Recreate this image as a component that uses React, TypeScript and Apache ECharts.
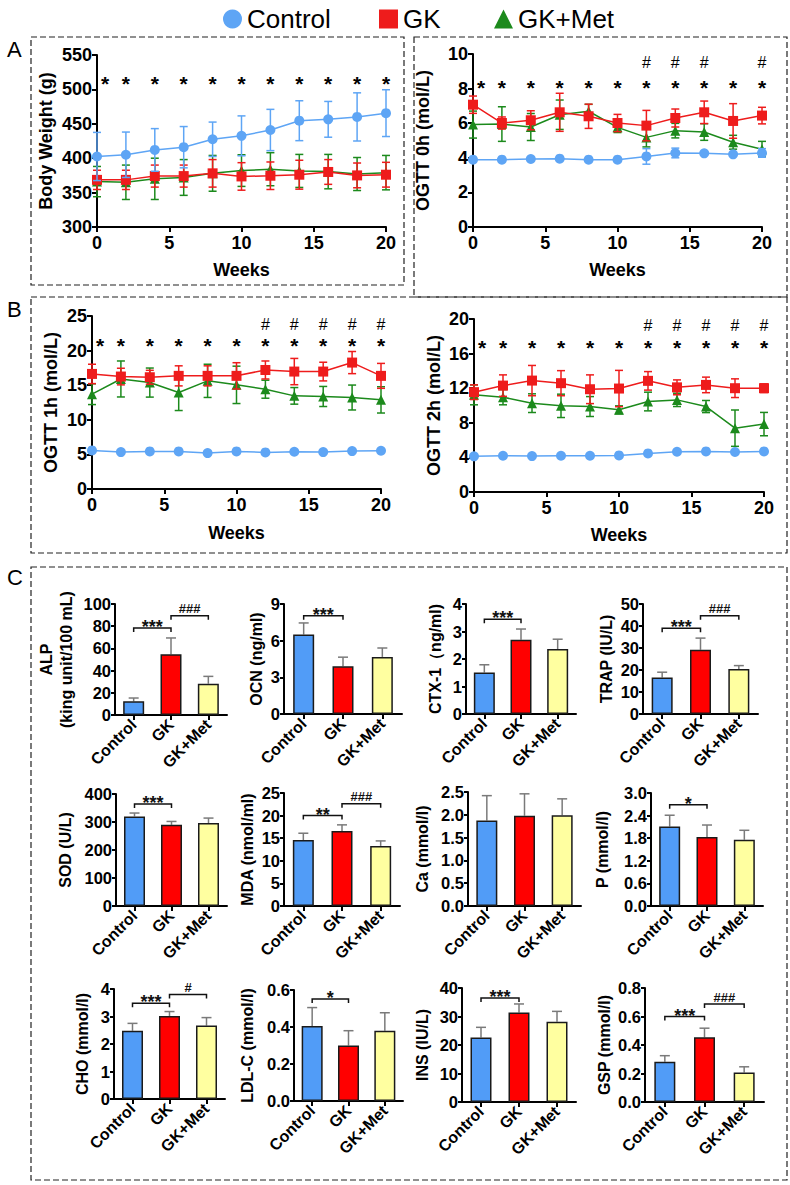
import React, { useEffect, useRef } from "react";
import * as echarts from "echarts";

const FONT = 'Arial, "Liberation Sans", sans-serif';

// ---------- line-chart data ----------
const weeks = [0, 2, 4, 6, 8, 10, 12, 14, 16, 18, 20];

const bwControl = [402.5, 405, 412, 416, 427.5, 432.5, 441, 454.5, 456.5, 460, 465.5];
const bwControlSd = [35, 33, 31, 30, 25, 29, 30, 29, 26, 35, 34];
const bwGK = [368.5, 368.5, 374, 374, 378, 373.5, 374.5, 376, 380, 375, 376];
const bwGKSd = [14, 14, 16, 16, 20, 20, 20, 21, 18, 18, 18];
const bwMet = [366, 365, 370, 372, 378, 382, 384, 381.5, 380.5, 377, 379];
const bwMetSd = [22, 25, 30, 26, 26, 23, 24, 24, 25, 24, 25];

const g0Control = [3.89, 3.89, 3.93, 3.95, 3.89, 3.89, 4.08, 4.28, 4.26, 4.2, 4.28];
const g0ControlSd = [0.05, 0.05, 0.05, 0.05, 0.05, 0.05, 0.45, 0.28, 0.08, 0.06, 0.25];
const g0GK = [7.07, 6.01, 6.17, 6.63, 6.4, 6.01, 5.86, 6.3, 6.63, 6.13, 6.44];
const g0GKSd = [0.5, 0.35, 0.55, 1.1, 0.7, 0.5, 0.88, 0.52, 0.65, 1.0, 0.48];
const g0Met = [5.92, 5.95, 5.78, 6.49, 6.69, 5.76, 5.18, 5.57, 5.49, 4.9, 4.5];
const g0MetSd = [0.78, 1.0, 0.78, 0.85, 0.4, 0.3, 0.55, 0.42, 0.48, 0.4, 0.45];

const g1Control = [5.58, 5.34, 5.43, 5.43, 5.19, 5.43, 5.29, 5.38, 5.34, 5.48, 5.53];
const g1ControlSd = [0.1, 0.1, 0.1, 0.1, 0.1, 0.1, 0.1, 0.1, 0.1, 0.1, 0.1];
const g1GK = [16.63, 16.25, 16.15, 16.35, 16.35, 16.35, 17.2, 16.97, 16.97, 18.27, 16.35];
const g1GKSd = [1.4, 1.2, 1.0, 1.45, 1.45, 1.9, 1.3, 1.9, 1.35, 1.6, 1.8];
const g1Met = [13.7, 15.9, 15.38, 13.94, 15.63, 15.05, 14.42, 13.46, 13.37, 13.22, 12.88];
const g1MetSd = [1.5, 2.6, 2.1, 2.6, 2.4, 2.7, 1.3, 1.2, 1.45, 1.8, 1.9];

const g2Control = [4.12, 4.19, 4.15, 4.19, 4.19, 4.23, 4.46, 4.65, 4.69, 4.62, 4.69];
const g2ControlSd = [0.1, 0.1, 0.1, 0.1, 0.1, 0.1, 0.1, 0.1, 0.1, 0.1, 0.1];
const g2GK = [11.54, 12.3, 12.88, 12.58, 11.88, 11.96, 12.85, 12.1, 12.38, 12.0, 12.0];
const g2GKSd = [0.85, 1.24, 1.75, 1.45, 1.66, 2.1, 1.07, 0.86, 0.9, 1.08, 0.5];
const g2Met = [11.23, 10.96, 10.27, 9.96, 9.88, 9.5, 10.46, 10.65, 9.88, 7.38, 7.85];
const g2MetSd = [1.15, 0.88, 1.08, 1.35, 1.15, 0.46, 1.08, 0.77, 0.7, 2.1, 1.35];

const hashWeeks0h = [12, 14, 16, 20];
const hashWeeks1h = [12, 14, 16, 18, 20];
const hashWeeks2h = [12, 14, 16, 18, 20];

// ---------- bar-chart data ----------
const groups = ["Control", "GK", "GK+Met"];
const alp = [12.3, 54.7, 28.2];
const alpSd = [3, 14.7, 6.6];
const ocn = [6.5, 3.9, 4.67];
const ocnSd = [0.95, 0.75, 0.73];
const ctx = [1.51, 2.7, 2.36];
const ctxSd = [0.28, 0.39, 0.36];
const trap = [16.6, 29.2, 20.4];
const trapSd = [2.4, 5.3, 1.6];
const sod = [320, 290, 296];
const sodSd = [12, 12, 18];
const mda = [14.6, 16.6, 13.3];
const mdaSd = [1.5, 1.35, 1.1];
const ca = [1.875, 1.98, 1.99];
const caSd = [0.545, 0.48, 0.36];
const phos = [2.11, 1.83, 1.76];
const phosSd = [0.3, 0.32, 0.25];
const cho = [2.48, 3.02, 2.67];
const choSd = [0.27, 0.16, 0.29];
const ldl = [0.405, 0.3, 0.38];
const ldlSd = [0.1, 0.08, 0.097];
const ins = [22.6, 31.4, 28.2];
const insSd = [3.6, 3.0, 3.6];
const gsp = [0.282, 0.454, 0.207];
const gspSd = [0.043, 0.064, 0.04];

const C_BLUE = "#5EA5F5";
const C_RED = "#EE1C1C";
const C_GREEN = "#1C8A1C";
const BAR_COLORS = ["#519CF7", "#FF0000", "#FFFFA0"];

const errLineRender = (color: string) => (params: any, api: any) => {
  const x = api.value(0);
  const lo = api.coord([x, api.value(1)]);
  const hi = api.coord([x, api.value(2)]);
  const w = 4;
  return {
    type: "group",
    children: [
      { type: "line", shape: { x1: lo[0], y1: lo[1], x2: hi[0], y2: hi[1] }, style: { stroke: color, lineWidth: 1.5 } },
      { type: "line", shape: { x1: hi[0] - w, y1: hi[1], x2: hi[0] + w, y2: hi[1] }, style: { stroke: color, lineWidth: 1.5 } },
      { type: "line", shape: { x1: lo[0] - w, y1: lo[1], x2: lo[0] + w, y2: lo[1] }, style: { stroke: color, lineWidth: 1.5 } },
    ],
  };
};

const textStyleBase = { fontFamily: FONT, fontWeight: "bold", color: "#000" };

function buildOption() {
  const grid: any[] = [];
  const xAxis: any[] = [];
  const yAxis: any[] = [];
  const series: any[] = [];

  const linePanels = [
    { box: { left: 97, top: 55, width: 289, height: 172 }, y: [300, 550, 50], name: "Body Weight (g)", yGap: 42, xGap: 34,
      ctrl: bwControl, ctrlSd: bwControlSd, gk: bwGK, gkSd: bwGKSd, met: bwMet, metSd: bwMetSd, star: 516, hash: 0, hashWeeks: [] as number[] },
    { box: { left: 473, top: 54, width: 289, height: 173 }, y: [0, 10, 2], name: "OGTT 0h (mol/L)", yGap: 41, xGap: 34,
      ctrl: g0Control, ctrlSd: g0ControlSd, gk: g0GK, gkSd: g0GKSd, met: g0Met, metSd: g0MetSd, star: 8.38, hash: 9.48, hashWeeks: hashWeeks0h },
    { box: { left: 92, top: 316, width: 289, height: 173 }, y: [0, 25, 5], name: "OGTT 1h (mol/L)", yGap: 32, xGap: 35,
      ctrl: g1Control, ctrlSd: g1ControlSd, gk: g1GK, gkSd: g1GKSd, met: g1Met, metSd: g1MetSd, star: 21.4, hash: 23.8, hashWeeks: hashWeeks1h },
    { box: { left: 474, top: 319, width: 290, height: 173 }, y: [0, 20, 4], name: "OGTT 2h (mol/L)", yGap: 31, xGap: 34,
      ctrl: g2Control, ctrlSd: g2ControlSd, gk: g2GK, gkSd: g2GKSd, met: g2Met, metSd: g2MetSd, star: 17.3, hash: 19.2, hashWeeks: hashWeeks2h },
  ];

  linePanels.forEach((p) => {
    const gi = grid.length;
    grid.push({ ...p.box, containLabel: false });
    xAxis.push({
      gridIndex: gi, type: "value", min: 0, max: 20, interval: 5,
      name: "Weeks", nameLocation: "middle", nameGap: p.xGap,
      nameTextStyle: { ...textStyleBase, fontSize: 18 },
      axisLine: { show: true, onZero: false, lineStyle: { color: "#000", width: 2 } },
      axisTick: { show: true, length: 5, lineStyle: { color: "#000", width: 2 } },
      axisLabel: { ...textStyleBase, fontSize: 18, margin: 7 },
      splitLine: { show: false },
    });
    yAxis.push({
      gridIndex: gi, type: "value", min: p.y[0], max: p.y[1], interval: p.y[2],
      name: p.name, nameLocation: "middle", nameRotate: 90, nameGap: p.yGap,
      nameTextStyle: { ...textStyleBase, fontSize: 18 },
      axisLine: { show: true, onZero: false, lineStyle: { color: "#000", width: 2 } },
      axisTick: { show: true, length: 5, lineStyle: { color: "#000", width: 2 } },
      axisLabel: { ...textStyleBase, fontSize: 18, margin: 5 },
      splitLine: { show: false },
    });
    const groupsDef = [
      { name: "GK+Met", v: p.met, sd: p.metSd, color: C_GREEN, symbol: "triangle", size: 10, z: 3 },
      { name: "GK", v: p.gk, sd: p.gkSd, color: C_RED, symbol: "rect", size: 10, z: 4 },
      { name: "Control", v: p.ctrl, sd: p.ctrlSd, color: C_BLUE, symbol: "circle", size: 10, z: 5 },
    ];
    groupsDef.forEach((g) => {
      series.push({
        type: "custom", xAxisIndex: gi, yAxisIndex: gi, silent: true, z: g.z,
        data: weeks.map((w, k) => [w, g.v[k] - g.sd[k], g.v[k] + g.sd[k]]),
        encode: { x: 0, y: [1, 2] },
        renderItem: errLineRender(g.color),
      });
      series.push({
        type: "line", name: g.name, xAxisIndex: gi, yAxisIndex: gi, z: g.z,
        data: weeks.map((w, k) => [w, g.v[k]]),
        symbol: g.symbol, symbolSize: g.size, showSymbol: true,
        itemStyle: { color: g.color }, lineStyle: { color: g.color, width: 1.5 },
      });
    });
    const marks: any[] = weeks.map((w) => [w, p.star]);
    const markText: string[] = weeks.map(() => "*");
    p.hashWeeks.forEach((w) => {
      marks.push([w, p.hash]);
      markText.push("#");
    });
    series.push({
      type: "custom", xAxisIndex: gi, yAxisIndex: gi, silent: true, z: 6,
      data: marks, encode: { x: 0, y: 1 },
      renderItem: (params: any, api: any) => {
        const w = api.value(0);
        const pt = api.coord([w, api.value(1)]);
        const t = markText[params.dataIndex];
        const isStar = t === "*";
        return {
          type: "text",
          style: {
            text: t, x: pt[0] + (w === 0 ? 8 : 0), y: pt[1] + (isStar ? 5 : 0),
            align: "center", verticalAlign: "middle",
            fontFamily: FONT, fontWeight: isStar ? "bold" : "normal", fontSize: isStar ? 21 : 16, fill: "#000",
          },
        };
      },
    });
  });

  const barPanels = [
    { box: { left: 115, top: 604, width: 112, height: 111 }, max: 100, int: 20, dec: 0, name: "ALP\n(king unit/100 mL)", gap: 39, v: alp, sd: alpSd,
      br: [{ a: 0, b: 1, y: 78.4, t: "***" }, { a: 1, b: 2, y: 89.5, t: "###" }] },
    { box: { left: 284, top: 604, width: 118, height: 110 }, max: 9, int: 3, dec: 0, name: "OCN (ng/ml)", gap: 16, v: ocn, sd: ocnSd,
      br: [{ a: 0, b: 1, y: 8.04, t: "***" }] },
    { box: { left: 466, top: 604, width: 110, height: 110 }, max: 4, int: 1, dec: 0, name: "CTX-1（ng/ml)", gap: 21, v: ctx, sd: ctxSd,
      br: [{ a: 0, b: 1, y: 3.45, t: "***" }] },
    { box: { left: 643, top: 604, width: 115, height: 110 }, max: 50, int: 10, dec: 0, name: "TRAP (IU/L)", gap: 23, v: trap, sd: trapSd,
      br: [{ a: 0, b: 1, y: 39, t: "***" }, { a: 1, b: 2, y: 44.7, t: "###" }] },
    { box: { left: 116, top: 794, width: 111, height: 112 }, max: 400, int: 100, dec: 0, name: "SOD (U/L)", gap: 41, v: sod, sd: sodSd,
      br: [{ a: 0, b: 1, y: 364, t: "***" }] },
    { box: { left: 284, top: 793, width: 116, height: 113 }, max: 25, int: 5, dec: 0, name: "MDA (nmol/ml)", gap: 27, v: mda, sd: mdaSd,
      br: [{ a: 0, b: 1, y: 20, t: "**" }, { a: 1, b: 2, y: 22.6, t: "###" }] },
    { box: { left: 468, top: 792, width: 113, height: 114 }, max: 2.5, int: 0.5, dec: 1, name: "Ca (mmol/l)", gap: 36, v: ca, sd: caSd, br: [] as any[] },
    { box: { left: 651, top: 793, width: 112, height: 113 }, max: 3.0, int: 0.6, dec: 1, name: "P (mmol/l)", gap: 39, v: phos, sd: phosSd,
      br: [{ a: 0, b: 1, y: 2.69, t: "*" }] },
    { box: { left: 114, top: 989, width: 111, height: 110 }, max: 4, int: 1, dec: 0, name: "CHO (mmol/l)", gap: 22, v: cho, sd: choSd,
      br: [{ a: 0, b: 1, y: 3.48, t: "***" }, { a: 1, b: 2, y: 3.8, t: "#" }] },
    { box: { left: 294, top: 990, width: 109, height: 111 }, max: 0.6, int: 0.2, dec: 1, name: "LDL-C (mmol/l)", gap: 37, v: ldl, sd: ldlSd,
      br: [{ a: 0, b: 1, y: 0.551, t: "*" }] },
    { box: { left: 462, top: 988, width: 114, height: 114 }, max: 40, int: 10, dec: 0, name: "INS (IU/L)", gap: 30, v: ins, sd: insSd,
      br: [{ a: 0, b: 1, y: 36.5, t: "***" }] },
    { box: { left: 645, top: 988, width: 119, height: 114 }, max: 0.8, int: 0.2, dec: 1, name: "GSP (mmol/l)", gap: 30, v: gsp, sd: gspSd,
      br: [{ a: 0, b: 1, y: 0.6, t: "***" }, { a: 1, b: 2, y: 0.687, t: "###" }] },
  ];

  barPanels.forEach((p) => {
    const gi = grid.length;
    grid.push({ ...p.box, containLabel: false });
    xAxis.push({
      gridIndex: gi, type: "category", data: groups, boundaryGap: true,
      axisLine: { show: true, onZero: false, lineStyle: { color: "#000", width: 2 } },
      axisTick: { show: true, alignWithLabel: true, length: 5, lineStyle: { color: "#000", width: 2 } },
      axisLabel: { ...textStyleBase, fontSize: 16, rotate: 45, margin: 7, interval: 0 },
      splitLine: { show: false },
    });
    const dec = p.dec;
    yAxis.push({
      gridIndex: gi, type: "value", min: 0, max: p.max, interval: p.int,
      name: p.name, nameLocation: "middle", nameRotate: 90, nameGap: p.gap,
      nameTextStyle: { ...textStyleBase, fontSize: 16, lineHeight: 20 },
      axisLine: { show: true, onZero: false, lineStyle: { color: "#000", width: 2 } },
      axisTick: { show: true, length: 4, lineStyle: { color: "#000", width: 2 } },
      axisLabel: { ...textStyleBase, fontSize: 16.5, margin: 4, formatter: (val: number) => val.toFixed(dec) },
      splitLine: { show: false },
    });
    series.push({
      type: "custom", xAxisIndex: gi, yAxisIndex: gi, silent: true, z: 1,
      data: p.v.map((v, k) => [k, v, v + p.sd[k]]),
      encode: { x: 0, y: [1, 2] },
      renderItem: (params: any, api: any) => {
        const i = api.value(0);
        const lo = api.coord([i, api.value(1)]);
        const hi = api.coord([i, api.value(2)]);
        return {
          type: "group",
          children: [
            { type: "line", shape: { x1: lo[0], y1: lo[1], x2: hi[0], y2: hi[1] }, style: { stroke: "#7a7a7a", lineWidth: 1.5 } },
            { type: "line", shape: { x1: hi[0] - 5, y1: hi[1], x2: hi[0] + 5, y2: hi[1] }, style: { stroke: "#7a7a7a", lineWidth: 1.5 } },
          ],
        };
      },
    });
    series.push({
      type: "bar", xAxisIndex: gi, yAxisIndex: gi, z: 2, barWidth: 21,
      data: p.v.map((v, k) => ({ value: v, itemStyle: { color: BAR_COLORS[k] } })),
      itemStyle: { borderColor: "#1a1a1a", borderWidth: 1.5 },
    });
    if (p.br.length) {
      const br = p.br;
      series.push({
        type: "custom", xAxisIndex: gi, yAxisIndex: gi, silent: true, z: 3,
        data: br.map((b) => [b.a, b.b, b.y]),
        encode: { x: [0, 1], y: 2 },
        renderItem: (params: any, api: any) => {
          const a = api.coord([api.value(0), api.value(2)]);
          const b = api.coord([api.value(1), api.value(2)]);
          const t = br[params.dataIndex].t;
          const isStar = t.indexOf("*") >= 0;
          return {
            type: "group",
            children: [
              { type: "polyline", shape: { points: [[a[0], a[1] + 4], [a[0], a[1]], [b[0], b[1]], [b[0], b[1] + 4]] },
                style: { stroke: "#111", lineWidth: 1.5, fill: "none" } },
              { type: "text", style: {
                  text: t, x: (a[0] + b[0]) / 2, y: a[1] + (isStar ? -1 : -7),
                  align: "center", verticalAlign: "middle",
                  fontFamily: FONT, fontWeight: "bold", fontSize: isStar ? 18 : 13, fill: "#111" } },
            ],
          };
        },
      });
    }
  });

  const dash = { fill: "none", stroke: "#222", lineWidth: 1.2, lineDash: [6, 3] };
  const graphic: any[] = [
    { type: "rect", shape: { x: 31, y: 37, width: 373, height: 248 }, style: dash, silent: true },
    { type: "rect", shape: { x: 414, y: 37, width: 373, height: 260 }, style: dash, silent: true },
    { type: "rect", shape: { x: 31, y: 297, width: 756, height: 256 }, style: dash, silent: true },
    { type: "rect", shape: { x: 31, y: 567, width: 756, height: 613 }, style: dash, silent: true },
    { type: "text", x: 7, y: 38, style: { text: "A", fontFamily: FONT, fontSize: 22, fill: "#000" } },
    { type: "text", x: 7, y: 298, style: { text: "B", fontFamily: FONT, fontSize: 22, fill: "#000" } },
    { type: "text", x: 7, y: 566, style: { text: "C", fontFamily: FONT, fontSize: 22, fill: "#000" } },
  ];

  const legendBase = {
    top: 1, itemWidth: 19, itemHeight: 19, selectedMode: false,
    textStyle: { fontFamily: FONT, fontSize: 26, color: "#000" },
  };

  return {
    animation: false,
    backgroundColor: "#fff",
    legend: [
      { ...legendBase, left: 218, data: [{ name: "Control", icon: "circle" }] },
      { ...legendBase, left: 374, data: [{ name: "GK", icon: "rect" }] },
      { ...legendBase, left: 489, data: [{ name: "GK+Met", icon: "triangle" }] },
    ],
    grid, xAxis, yAxis, series, graphic,
  };
}

export default function App() {
  const ref = useRef<HTMLDivElement>(null);
  useEffect(() => {
    const chart = echarts.init(ref.current as HTMLDivElement, null, { renderer: "svg" });
    chart.setOption(buildOption() as any);
    return () => chart.dispose();
  }, []);
  return (
    <div
      ref={ref}
      style={{ position: "fixed", left: 0, top: 0, width: 790, height: 1185, background: "#fff" }}
    />
  );
}
